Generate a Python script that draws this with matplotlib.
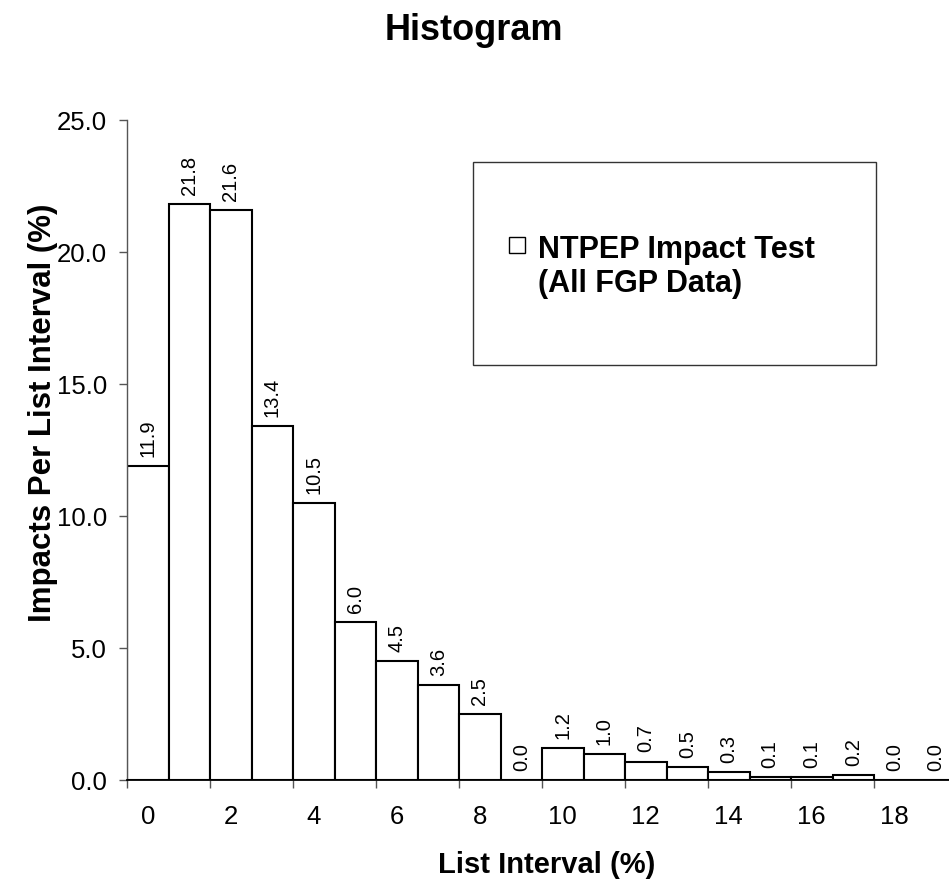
import matplotlib as mpl
mpl.use("Agg")
import matplotlib.pyplot as plt
from matplotlib.patches import Rectangle
import numpy as np

# data
categories = list(range(20))
values = [11.9, 21.8, 21.6, 13.4, 10.5, 6.0, 4.5, 3.6, 2.5, 0.0,
          1.2, 1.0, 0.7, 0.5, 0.3, 0.1, 0.1, 0.2, 0.0, 0.0]
xtick_labels = [str(c) for c in categories[::2]]
yticks = [0, 5, 10, 15, 20, 25]
legend_label = "NTPEP Impact Test\n(All FGP Data)"

plt.rcParams["font.family"] = ["Liberation Sans", "DejaVu Sans"]

W, H = 949, 880
fig = plt.figure(figsize=(W / 100, H / 100), dpi=100)
# axes runs past the right edge of the figure, like the original (last bar clipped)
ax = fig.add_axes([127 / W, 1 - 780 / H, 830 / W, 660 / H])

x = np.array(categories)
ax.bar(x, values, width=1.0, color="white", edgecolor="black", linewidth=1.5, zorder=2)

for xi, v in zip(x, values):
    ax.annotate(f"{v:.1f}", (xi, v), xytext=(0, 6.5), textcoords="offset points",
                rotation=90, ha="center", va="bottom", fontsize=14.5)

ax.set_xlim(-0.5, 19.5)
ax.set_ylim(0, 25)

# major x ticks at bin edges, labels on minor ticks at bar centres
ax.set_xticks(np.arange(-0.5, 18, 2))
ax.set_xticklabels([])
ax.set_xticks(x[::2], minor=True)
ax.set_xticklabels(xtick_labels, minor=True)
ax.tick_params(axis="x", which="major", length=6, width=1, color="#555555", direction="out")
ax.tick_params(axis="x", which="minor", length=0, pad=18, labelsize=18.5)

ax.set_yticks(yticks)
ax.set_yticklabels([f"{t:.1f}" for t in yticks])
ax.tick_params(axis="y", length=6, width=1, color="#555555", direction="out", pad=8.5, labelsize=18.5)

for s in ["top", "right"]:
    ax.spines[s].set_visible(False)
ax.spines["left"].set_color("#555555")
ax.spines["left"].set_linewidth(1.0)
ax.spines["bottom"].set_color("black")
ax.spines["bottom"].set_linewidth(1.3)

# legend box drawn by hand
ax.add_patch(Rectangle((0.417, 0.629), 0.485, 0.307, transform=ax.transAxes,
                       facecolor="white", edgecolor="#333333", linewidth=1.0, zorder=3))
ax.add_patch(Rectangle((0.460, 0.798), 0.020, 0.025, transform=ax.transAxes,
                       facecolor="white", edgecolor="black", linewidth=1.0, zorder=4))
ax.text(0.495, 0.826, legend_label, transform=ax.transAxes, ha="left", va="top",
        fontsize=22, fontweight="bold", zorder=4)

fig.text(474 / W, 1 - 40 / H, "Histogram", ha="center", va="baseline",
         fontsize=26, fontweight="bold")
fig.text(547 / W, 1 - 873 / H, "List Interval (%)", ha="center", va="baseline",
         fontsize=21, fontweight="bold")
fig.text(43 / W, 1 - 413 / H, "Impacts Per List Interval (%)", ha="center", va="center",
         rotation=90, fontsize=22.5, fontweight="bold")

fig.savefig("out.png", dpi=100)
plt.close(fig)
